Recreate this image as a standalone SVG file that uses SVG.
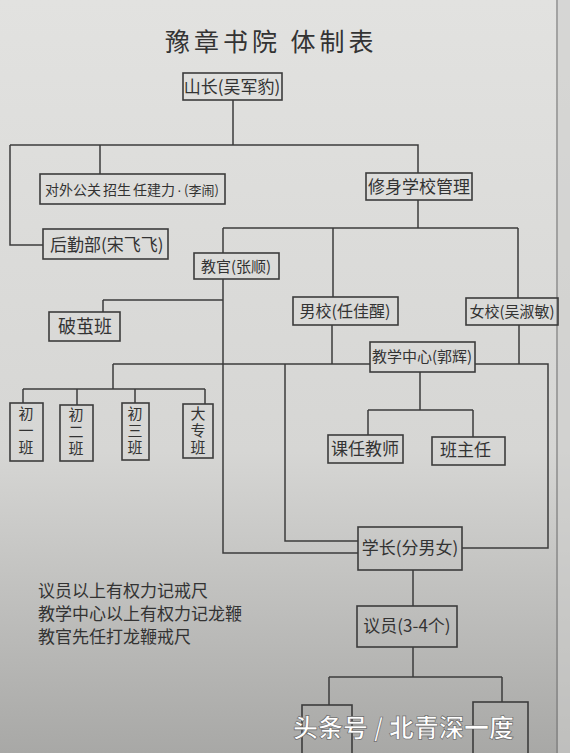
<svg xmlns="http://www.w3.org/2000/svg" width="570" height="753" viewBox="0 0 570 753">
<style>
.box{fill:none;stroke:#3c3c3c;stroke-width:1.6}
.t{font-family:"Noto Sans CJK SC","Noto Sans",sans-serif;fill:#333;font-size:17px}
.c{text-anchor:middle}
.v{font-family:"Noto Sans CJK SC","Noto Sans",sans-serif;fill:#333;font-size:15px;writing-mode:vertical-rl;letter-spacing:2px}
#connectors path{fill:none;stroke:#3c3c3c;stroke-width:1.5}
</style>
<defs>
<linearGradient id="bg" x1="0" y1="0" x2="0" y2="1">
<stop offset="0" stop-color="#e2e2e0"/>
<stop offset="0.6" stop-color="#d6d6d4"/>
<stop offset="1" stop-color="#a8a8a6"/>
</linearGradient>
</defs>
<rect width="570" height="753" fill="url(#bg)"/>
<line x1="557" y1="0" x2="557" y2="753" stroke="#7a7a7a" stroke-width="1.2"/>
<rect x="558" y="0" width="12" height="753" fill="#cfcfcd" opacity="0.6"/>
<text class="t" x="165" y="51" style="font-size:25px;letter-spacing:4px" fill="#3a3a3a">豫章书院 体制表</text>
<g id="connectors">
<path d="M233 100V145M10 145H418V173M100 145V174M10 145V245H43"/>
<path d="M418 200V228M223 228H518M223 228V253M333 228V297M518 228V298"/>
<path d="M223 279V553H358M103 300H223M103 300V312"/>
<path d="M113 364H370M475 364H548V548H462M285 364V541H358M332 325V364M519 325V364"/>
<path d="M113 364V389M23 389H205M23 389V403M77 389V405M135 389V403M205 389V404"/>
<path d="M420 372V410M368 410H473M368 410V435M473 410V437"/>
<path d="M413 570V606M413 647V677M329 677H502M329 677V705M502 677V702"/>
</g>
<g id="shanzhang"><rect class="box" x="183" y="73" width="99" height="27"/><text class="t c" x="232" y="93">山长(吴军豹)</text></g>
<g id="duiwai"><rect class="box" x="40" y="174" width="185" height="30"/><text class="t" y="195" style="font-size:14px"><tspan x="45">对外公关</tspan><tspan x="103">招生</tspan><tspan x="133">任建力</tspan><tspan x="177" style="font-family:'Liberation Sans',sans-serif">·</tspan><tspan x="184" style="font-size:13px">(李闹)</tspan></text></g>
<g id="houqin"><rect class="box" x="43" y="229" width="125" height="30"/><text class="t" x="50" y="251">后勤部(宋飞飞)</text></g>
<g id="xiushen"><rect class="box" x="366" y="173" width="106" height="27"/><text class="t c" x="419" y="193">修身学校管理</text></g>
<g id="jiaoguan"><rect class="box" x="194" y="253" width="85" height="26"/><text class="t c" x="236" y="272" style="font-size:15px">教官(张顺)</text></g>
<g id="pojian"><rect class="box" x="49" y="312" width="71" height="29"/><text class="t c" x="85" y="333" style="font-size:18px">破茧班</text></g>
<g id="nanxiao"><rect class="box" x="293" y="297" width="105" height="28"/><text class="t c" x="345" y="317" style="font-size:16px">男校(任佳醒)</text></g>
<g id="nvxiao"><rect class="box" x="466" y="298" width="92" height="27"/><text class="t c" x="512" y="317" style="font-size:15px">女校(吴淑敏)</text></g>
<g id="jiaoxue"><rect class="box" x="370" y="342" width="105" height="30"/><text class="t c" x="422" y="362" style="font-size:15px">教学中心(郭辉)</text></g>
<g id="chu1"><rect class="box" x="10" y="403" width="33" height="58"/><text class="v" x="26" y="406">初一班</text></g>
<g id="chu2"><rect class="box" x="60" y="405" width="33" height="56"/><text class="v" x="76" y="407">初二班</text></g>
<g id="chu3"><rect class="box" x="122" y="403" width="27" height="57"/><text class="v" x="135" y="406">初三班</text></g>
<g id="dazhuan"><rect class="box" x="183" y="404" width="30" height="54"/><text class="v" x="198" y="406">大专班</text></g>
<g id="keren"><rect class="box" x="328" y="435" width="75" height="28"/><text class="t c" x="365" y="455">课任教师</text></g>
<g id="banzhuren"><rect class="box" x="432" y="437" width="73" height="28"/><text class="t" x="440" y="456">班主任</text></g>
<g id="xuezhang"><rect class="box" x="358" y="527" width="104" height="43"/><text class="t c" x="410" y="554">学长(分男女)</text></g>
<g id="yiyuan"><rect class="box" x="357" y="606" width="100" height="41"/><text class="t c" x="407" y="632">议员(3-4个)</text></g>
<g id="bottom-left"><rect class="box" x="302" y="705" width="50" height="60"/></g>
<g id="bottom-right"><rect class="box" x="473" y="702" width="55" height="60"/></g>
<g id="notes">
<text class="t" x="38" y="597">议员以上有权力记戒尺</text>
<text class="t" x="38" y="620">教学中心以上有权力记龙鞭</text>
<text class="t" x="38" y="643">教官先任打龙鞭戒尺</text>
</g>
<text x="293" y="737" font-family="Noto Sans CJK SC,sans-serif" font-size="25" font-weight="bold" fill="#ffffff" stroke="#6a6a6a" stroke-width="0.7">头条号 / 北青深一度</text>
</svg>
